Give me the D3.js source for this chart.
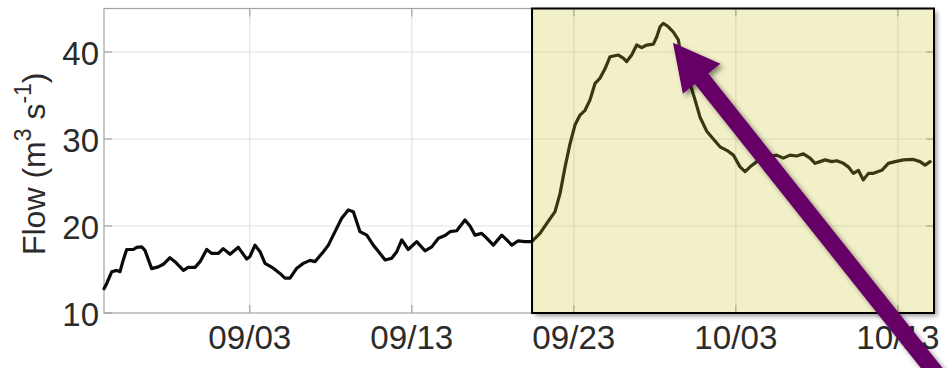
<!DOCTYPE html>
<html>
<head>
<meta charset="utf-8">
<script src="https://cdn.jsdelivr.net/npm/d3@7"></script>
<style>
  html, body { margin: 0; padding: 0; background: #fff; }
  svg { display: block; }
  text { font-family: "Liberation Sans", Arial, Helvetica, sans-serif; fill: #2b2b2b; }
</style>
</head>
<body>
<svg id="chart" width="951" height="368"></svg>
<script>
// River flow record, days counted from the start of the record (25 Aug).
const recordStart = Date.UTC(2012, 7, 25);

const dayOffset = [
  0.00, 0.17, 0.48, 0.78, 0.99, 1.19, 1.40, 1.81, 2.02, 2.33, 2.53, 2.94, 3.35, 3.66, 4.07, 4.38,
  4.90, 5.20, 5.62, 5.93, 6.34, 6.65, 7.06, 7.36, 7.78, 8.29, 8.81, 9.01, 9.32, 9.63, 9.94, 10.45,
  10.86, 11.17, 11.48, 11.90, 12.30, 12.72, 13.02, 13.54, 13.85, 14.26, 14.67, 15.08, 15.39, 15.80,
  16.22, 16.62, 17.04, 17.35, 17.76, 18.07, 18.38, 18.78, 19.30, 19.81, 20.23, 20.64, 21.05, 21.36,
  21.77, 22.28, 22.59, 22.90, 23.31, 23.62, 24.03, 24.55, 24.86, 25.17, 25.57, 25.99, 26.40, 26.91,
  27.33, 27.84, 28.15, 28.46, 28.77, 29.07, 29.38, 29.69, 30.00, 30.31, 30.62, 30.93, 31.23, 31.75,
  32.05, 32.26, 32.57, 32.88, 33.19, 33.50, 33.91, 34.12, 34.32, 34.52, 34.83, 35.14, 35.45, 35.74,
  36.17, 36.48, 36.79, 37.20, 37.61, 38.02, 38.44, 38.85, 39.26, 39.57, 39.88, 40.29, 40.70, 41.11,
  41.52, 41.93, 42.35, 42.76, 43.17, 43.58, 43.89, 44.20, 44.51, 44.92, 45.23, 45.64, 45.94, 46.25,
  46.56, 46.87, 47.18, 47.49, 48.01, 48.41, 48.83, 49.34, 49.96, 50.37, 50.68, 50.99
];

const flow = [
  12.8, 13.4, 14.75, 14.9, 14.75, 16.1, 17.3, 17.3, 17.55, 17.6, 17.2, 15.1, 15.3, 15.6, 16.35, 15.9,
  14.9, 15.25, 15.25, 15.9, 17.3, 16.85, 16.85, 17.4, 16.75, 17.55, 16.2, 16.5, 17.8, 17.05, 15.7, 15.15,
  14.55, 14.0, 14.0, 15.15, 15.7, 16.05, 15.9, 17.05, 17.8, 19.35, 20.9, 21.85, 21.65, 19.35,
  18.95, 17.8, 16.85, 16.1, 16.3, 17.05, 18.4, 17.3, 18.2, 17.15, 17.6, 18.6, 18.9, 19.35,
  19.45, 20.7, 20.0, 18.95, 19.15, 18.6, 17.8, 18.95, 18.4, 17.8, 18.3, 18.2, 18.2, 19.15,
  20.3, 21.65, 23.75, 26.8, 29.5, 31.6, 32.75, 33.3, 34.5, 36.4, 37.0, 38.1, 39.45, 39.65,
  39.3, 38.9, 39.65, 40.8, 40.5, 40.8, 40.9, 41.75, 42.9, 43.3, 42.9, 42.3, 41.4, 37.9,
  36.4, 34.5, 32.5, 30.9, 30.0, 29.1, 28.7, 28.15, 26.8, 26.25, 26.8, 27.4, 27.8, 28.0,
  28.15, 27.8, 28.15, 28.05, 28.3, 27.8, 27.2, 27.4, 27.6, 27.4, 27.5, 27.2, 26.8, 26.05,
  26.4, 25.3, 26.05, 26.05, 26.4, 27.2, 27.4, 27.6, 27.65, 27.4, 27.0, 27.4
];

const xTickLabels = ["09/03", "09/13", "09/23", "10/03", "10/13"];
const yTicks = [10, 20, 30, 40];
const yDomain = [10, 45];
const xEndOffset = 51.23;           // end of the time axis, in days
const highlightStartOffset = 26.42; // start of the highlighted high-flow event
const arrowTip = [35.12, 41.07];    // [day, flow]
const arrowTail = [52.4, 0.6];

const dayToDate = d => new Date(recordStart + d * 864e5);
const series = dayOffset.map((d, i) => ({ date: dayToDate(d), value: flow[i] }));

const W = 951, H = 368;
const margin = { top: 8.5, right: 17, bottom: 55, left: 104 };
const plotW = W - margin.left - margin.right;
const plotH = H - margin.top - margin.bottom;

const svg = d3.select("#chart");
const defs = svg.append("defs");

const shadow = defs.append("filter").attr("id", "soft-shadow")
  .attr("x", "-20%").attr("y", "-20%").attr("width", "140%").attr("height", "140%");
shadow.append("feDropShadow").attr("dx", 3).attr("dy", 3)
  .attr("stdDeviation", 2.5).attr("flood-color", "#000").attr("flood-opacity", 0.45);

const blur = defs.append("filter").attr("id", "blur-shadow")
  .attr("x", "-10%").attr("y", "-10%").attr("width", "120%").attr("height", "120%");
blur.append("feGaussianBlur").attr("stdDeviation", 2.5);

const x = d3.scaleUtc()
  .domain([dayToDate(0), dayToDate(xEndOffset)])
  .range([margin.left, margin.left + plotW]);
const y = d3.scaleLinear().domain(yDomain).range([margin.top + plotH, margin.top]);

const parseTick = d3.utcParse("%Y/%m/%d");
const xTicks = xTickLabels.map(s => parseTick("2012/" + s));
const fmt = d3.utcFormat("%m/%d");

const hx0 = x(dayToDate(highlightStartOffset));
const hx1 = margin.left + plotW;

// drop shadow under the highlight box, then an opaque base for its interior
svg.append("rect")
  .attr("x", hx0 + 3).attr("y", margin.top + 3)
  .attr("width", hx1 - hx0).attr("height", plotH)
  .attr("fill", "#000").attr("opacity", 0.4)
  .attr("filter", "url(#blur-shadow)");
svg.append("rect")
  .attr("x", hx0).attr("y", margin.top)
  .attr("width", hx1 - hx0).attr("height", plotH)
  .attr("fill", "#fff");

// grid
const grid = svg.append("g").attr("stroke", "#e2e2e2").attr("stroke-width", 1.2);
grid.selectAll("line.gy").data(yTicks.filter(v => v > yDomain[0])).join("line")
  .attr("x1", margin.left).attr("x2", margin.left + plotW)
  .attr("y1", d => y(d)).attr("y2", d => y(d));
grid.selectAll("line.gx").data(xTicks).join("line")
  .attr("x1", d => x(d)).attr("x2", d => x(d))
  .attr("y1", margin.top).attr("y2", margin.top + plotH);

// axes frame with inward ticks on all sides
const frame = svg.append("g").attr("stroke", "#a3a3a3").attr("stroke-width", 1.2).attr("fill", "none");
frame.append("rect").attr("x", margin.left).attr("y", margin.top)
  .attr("width", plotW).attr("height", plotH);
const tl = 8;
yTicks.forEach(v => {
  frame.append("line").attr("x1", margin.left).attr("x2", margin.left + tl).attr("y1", y(v)).attr("y2", y(v));
  frame.append("line").attr("x1", margin.left + plotW - tl).attr("x2", margin.left + plotW).attr("y1", y(v)).attr("y2", y(v));
});
xTicks.forEach(d => {
  frame.append("line").attr("x1", x(d)).attr("x2", x(d)).attr("y1", margin.top + plotH).attr("y2", margin.top + plotH - tl);
  frame.append("line").attr("x1", x(d)).attr("x2", x(d)).attr("y1", margin.top).attr("y2", margin.top + tl);
});

// flow line
const line = d3.line().x(d => x(d.date)).y(d => y(d.value)).curve(d3.curveLinear);
svg.append("path").datum(series)
  .attr("d", line)
  .attr("fill", "none").attr("stroke", "#0a0a0a").attr("stroke-width", 3.2)
  .attr("stroke-linejoin", "round").attr("stroke-linecap", "round");

// translucent highlight over the event period
svg.append("rect")
  .attr("x", hx0).attr("y", margin.top)
  .attr("width", hx1 - hx0).attr("height", plotH)
  .attr("fill", "rgb(203,195,35)").attr("fill-opacity", 0.25)
  .attr("stroke", "#000").attr("stroke-width", 2);

// tick labels
svg.append("g").selectAll("text").data(xTicks).join("text")
  .attr("x", d => x(d)).attr("y", 349)
  .attr("text-anchor", "middle").attr("font-size", 33)
  .attr("textLength", 83).attr("lengthAdjust", "spacingAndGlyphs")
  .text(d => fmt(d));
svg.append("g").selectAll("text").data(yTicks).join("text")
  .attr("x", margin.left - 5).attr("y", d => y(d) + 13)
  .attr("text-anchor", "end").attr("font-size", 33)
  .text(d => d);

// axis title
const title = svg.append("text")
  .attr("transform", `translate(45,${margin.top + plotH / 2 + 3}) rotate(-90)`)
  .attr("text-anchor", "middle").attr("font-size", 32);
title.append("tspan").text("Flow (m");
title.append("tspan").attr("font-size", 23).attr("dy", -14).text("3");
title.append("tspan").attr("dy", 14).text(" s");
title.append("tspan").attr("font-size", 23).attr("dy", -14).text("-1");
title.append("tspan").attr("dy", 14).text(")");

// arrow pointing at the flow peak
const tip = [x(dayToDate(arrowTip[0])), y(arrowTip[1])];
const tail = [x(dayToDate(arrowTail[0])), y(arrowTail[1])];
const len = Math.hypot(tail[0] - tip[0], tail[1] - tip[1]);
const u = [(tail[0] - tip[0]) / len, (tail[1] - tip[1]) / len];
const n = [-u[1], u[0]];
const headLen = 46, headHalf = 24, shaftHalf = 8.5;
const base = [tip[0] + u[0] * headLen, tip[1] + u[1] * headLen];
const pt = (p, k) => [p[0] + n[0] * k, p[1] + n[1] * k];
const arrowPts = [tip, pt(base, headHalf), pt(base, shaftHalf), pt(tail, shaftHalf),
                  pt(tail, -shaftHalf), pt(base, -shaftHalf), pt(base, -headHalf)];
svg.append("polygon")
  .attr("points", arrowPts.map(p => p.join(",")).join(" "))
  .attr("fill", "#660066")
  .attr("filter", "url(#soft-shadow)");
</script>
</body>
</html>
